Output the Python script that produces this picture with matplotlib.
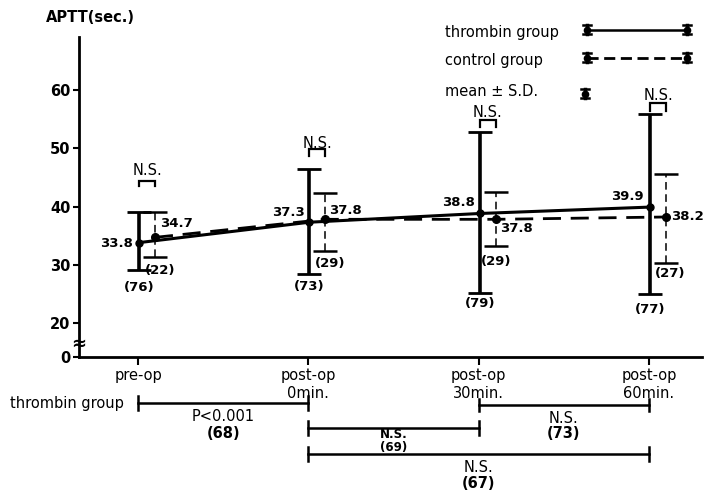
import matplotlib
matplotlib.use('Agg')
import matplotlib.pyplot as plt
from matplotlib.transforms import blended_transform_factory

plt.rcParams['font.family'] = ['DejaVu Sans']

# ---------------- data ----------------
categories = ['pre-op', 'post-op\n0min.', 'post-op\n30min.', 'post-op\n60min.']
thrombin_mean = [33.8, 37.3, 38.8, 39.9]
thrombin_sd_low = [4.7, 8.9, 13.65, 14.9]
thrombin_sd_high = [5.25, 9.1, 14.0, 16.0]
thrombin_n = [76, 73, 79, 77]
control_mean = [34.7, 37.8, 37.8, 38.2]
control_sd_low = [3.4, 5.45, 4.6, 7.9]
control_sd_high = [4.35, 4.5, 4.7, 7.4]
control_n = [22, 29, 29, 27]
pair_test = ['N.S.', 'N.S.', 'N.S.', 'N.S.']
# comparisons within thrombin group
comp_from = [0, 1, 1, 2]
comp_to = [1, 2, 3, 3]
comp_result = ['P<0.001', 'N.S.', 'N.S.', 'N.S.']
comp_n = [68, 69, 67, 73]
yticks = [20, 30, 40, 50, 60]

# ---------------- layout ----------------
W, H = 704, 490
fig = plt.figure(figsize=(W / 100, H / 100), dpi=100)
ax_l, ax_r, ax_t, ax_b = 79, 702, 37, 357
ax = fig.add_axes([ax_l / W, 1 - ax_b / H, (ax_r - ax_l) / W, (ax_b - ax_t) / H])
ov = fig.add_axes([0, 0, 1, 1], zorder=5)
ov.set_xlim(0, W)
ov.set_ylim(H, 0)
ov.axis('off')

# y scale: 20 -> 323 px, 60 -> 90 px
py = (323 - 90) / 40.0
y_bot = 20 - (ax_b - 323) / py
y_top = 60 + (90 - ax_t) / py
ax.set_ylim(y_bot, y_top)
# x scale: cat0 -> 138 px, cat3 -> 649 px
px = (649 - 138) / 3.0
ax.set_xlim(-(138 - ax_l) / px, (ax_r - 138) / px)

x_t = [i + 1 / px for i in range(len(categories))]
x_c = [i + 17 / px for i in range(len(categories))]

# means
ax.plot(x_t, thrombin_mean, color='k', lw=2.2, marker='o', ms=5, zorder=4)
ax.plot(x_c, control_mean, color='k', lw=2.0, ls=(0, (6.5, 3.5)), marker='o', ms=5.5, zorder=4)

# error bars
ax.errorbar(x_t, thrombin_mean, yerr=[thrombin_sd_low, thrombin_sd_high], fmt='none',
            ecolor='k', elinewidth=2.6, capsize=8.5, capthick=2.0, zorder=3)
eb = ax.errorbar(x_c, control_mean, yerr=[control_sd_low, control_sd_high], fmt='none',
                 ecolor='k', elinewidth=1.1, capsize=8.5, capthick=1.8, zorder=3)
eb[2][0].set_linestyle((0, (5, 3)))

# axes styling
for s in ['top', 'right']:
    ax.spines[s].set_visible(False)
for s in ['left', 'bottom']:
    ax.spines[s].set_linewidth(2.0)
ax.set_yticks([y_bot] + yticks)
ax.set_yticklabels(['0'] + [str(v) for v in yticks], fontsize=10.5, fontweight='bold')
ax.tick_params(axis='y', direction='out', length=4, width=1.5, pad=2)
ax.set_xticks([i for i in range(len(categories))])
ax.set_xticklabels(categories, fontsize=10.5, linespacing=1.2)
ax.tick_params(axis='x', direction='out', length=6, width=1.5, pad=2)
ax.patch.set_alpha(0)

# axis break and y label
ov.text(79, 344, '≈', fontsize=13, fontweight='bold', ha='center', va='center')
ov.text(46, 17, 'APTT(sec.)', fontsize=10.5, fontweight='bold', ha='left', va='center')

# value labels
t_off = [(-6, -1), (-5, 10), (-5, 11), (-6, 11)]
c_off = [(5, 14), (4, 9), (4, -9), (5, 0)]
for i in range(len(categories)):
    ax.annotate(f'{thrombin_mean[i]:.1f}', (x_t[i], thrombin_mean[i]), xytext=t_off[i],
                textcoords='offset pixels', ha='right', va='center', fontsize=9.5, fontweight='bold')
    ax.annotate(f'{control_mean[i]:.1f}', (x_c[i], control_mean[i]), xytext=c_off[i],
                textcoords='offset pixels', ha='left', va='center', fontsize=9.5, fontweight='bold')

tn_off = [(0, -18), (0, -12), (0, -10), (0, -16)]
cn_off = [(5, -13), (5, -12), (0, -15), (4, -10)]
for i in range(len(categories)):
    ax.annotate(f'({thrombin_n[i]})', (x_t[i], thrombin_mean[i] - thrombin_sd_low[i]), xytext=tn_off[i],
                textcoords='offset pixels', ha='center', va='center', fontsize=9.5, fontweight='bold')
    ax.annotate(f'({control_n[i]})', (x_c[i], control_mean[i] - control_sd_low[i]), xytext=cn_off[i],
                textcoords='offset pixels', ha='center', va='center', fontsize=9.5, fontweight='bold')

# N.S. brackets between groups (pixel y)
tr = blended_transform_factory(ax.transData, ov.transData)
br_y = [181, 149, 120, 103]
br_leg = [5, 7, 7, 8]
ns_y = [170, 143, 112, 95]
for i in range(len(categories)):
    y = br_y[i]
    ov.plot([x_t[i], x_t[i], x_c[i], x_c[i]], [y + br_leg[i], y, y, y + br_leg[i]],
            color='k', lw=1.6, transform=tr, solid_joinstyle='miter')
    ov.text((x_t[i] + x_c[i]) / 2, ns_y[i], pair_test[i], transform=tr,
            fontsize=10.5, ha='center', va='center')

# legend
ov.text(445, 32, 'thrombin group', fontsize=10.5, ha='left', va='center')
ov.text(445, 60, 'control group', fontsize=10.5, ha='left', va='center')
ov.text(445, 91, 'mean ± S.D.', fontsize=10.5, ha='left', va='center')


def icon(x, y):
    ov.plot([x, x], [y - 4.5, y + 4.5], color='k', lw=2.5)
    ov.plot([x - 4, x + 4], [y - 4.5, y - 4.5], color='k', lw=1.8)
    ov.plot([x - 4, x + 4], [y + 4.5, y + 4.5], color='k', lw=1.8)
    ov.plot([x], [y], 'o', color='k', ms=4.5)


ov.plot([587, 687], [30, 30], color='k', lw=1.8)
icon(587, 30)
icon(687, 30)
ov.plot([587, 687], [58, 58], color='k', lw=2.0, ls=(0, (4, 2)))
icon(587, 58)
icon(687, 58)
icon(585, 94)

# comparisons within thrombin group
ov.text(10, 403, 'thrombin group', fontsize=10.5, ha='left', va='center')
line_y = [403, 428, 454, 405]
tick_h = [7, 7, 7, 6]
txt_y1 = [416, 434, 467, 418]
txt_y2 = [433, 447, 483, 433]
small = [False, True, False, False]
for k in range(len(comp_from)):
    a, b, y = comp_from[k], comp_to[k], line_y[k]
    ov.plot([a, b], [y, y], color='k', lw=1.8, transform=tr)
    for xx in (a, b):
        ov.plot([xx, xx], [y - tick_h[k], y + tick_h[k]], color='k', lw=1.8, transform=tr)
    fs = 8.5 if small[k] else 10.5
    ov.text((a + b) / 2, txt_y1[k], comp_result[k], transform=tr, fontsize=fs,
            fontweight='bold' if small[k] else 'normal', ha='center', va='center')
    ov.text((a + b) / 2, txt_y2[k], f'({comp_n[k]})', transform=tr, fontsize=fs,
            fontweight='bold', ha='center', va='center')

fig.savefig('out.png', dpi=100)
